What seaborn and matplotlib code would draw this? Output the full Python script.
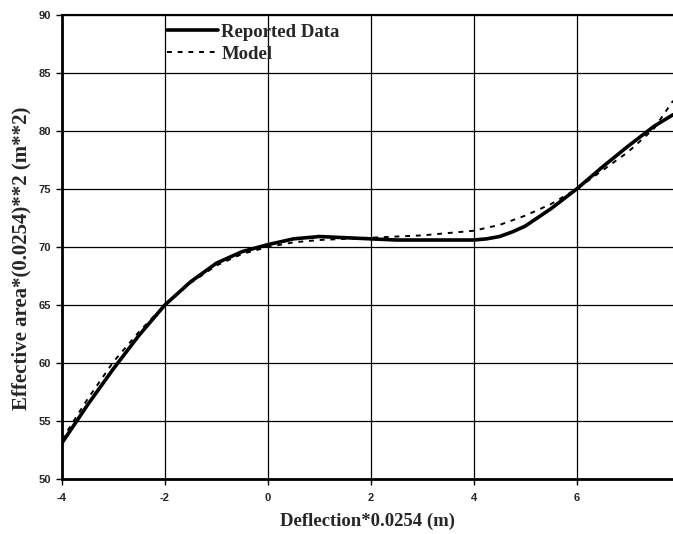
import matplotlib
matplotlib.use("Agg")
import matplotlib.pyplot as plt
import seaborn as sns
import pandas as pd

x_reported = [-4, -3.5, -3, -2.5, -2, -1.5, -1, -0.5, 0, 0.5, 1, 1.5, 2, 2.5, 3, 3.5, 4,
              4.25, 4.5, 4.75, 5, 5.5, 6, 6.5, 7, 7.5, 7.87]
y_reported = [53.1, 56.4, 59.5, 62.4, 65.0, 67.0, 68.6, 69.6, 70.2, 70.7, 70.9, 70.8, 70.7,
              70.6, 70.6, 70.6, 70.6, 70.7, 70.9, 71.3, 71.8, 73.3, 75.0, 76.9, 78.7, 80.4, 81.4]

x_model = [-4, -3.5, -3, -2.5, -2, -1.5, -1, -0.5, 0, 0.5, 1, 1.5, 2, 2.5, 3, 3.5, 4,
           4.5, 5, 5.5, 6, 6.5, 7, 7.5, 7.87]
y_model = [53.4, 56.9, 60.1, 62.7, 65.0, 66.9, 68.4, 69.4, 70.0, 70.4, 70.6, 70.7, 70.8,
           70.9, 71.0, 71.2, 71.4, 71.9, 72.7, 73.7, 75.0, 76.6, 78.2, 80.2, 82.6]

series_names = ["Reported Data", "Model"]
x_ticks = [-4, -2, 0, 2, 4, 6]
y_ticks = [50, 55, 60, 65, 70, 75, 80, 85, 90]

df = pd.concat([
    pd.DataFrame({"x": x_reported, "y": y_reported, "series": series_names[0]}),
    pd.DataFrame({"x": x_model, "y": y_model, "series": series_names[1]}),
])

sns.set_style("white")
plt.rcParams["axes.unicode_minus"] = False
fig = plt.figure(figsize=(6.73, 5.34), dpi=100)
ax = fig.add_axes([0.092, 0.103, 0.908, 0.869])

sns.lineplot(data=df[df.series == series_names[0]], x="x", y="y", ax=ax,
             color="black", linewidth=2.6, label=series_names[0], sort=False)
sns.lineplot(data=df[df.series == series_names[1]], x="x", y="y", ax=ax,
             color="black", linewidth=1.4, linestyle=(0, (2.5, 3)),
             label=series_names[1], sort=False)

ax.set_xlim(-4, 7.87)
ax.set_ylim(50, 90)
ax.set_xticks(x_ticks)
ax.set_yticks(y_ticks)
ax.grid(True, color="black", linewidth=0.9)
ax.set_axisbelow(True)

for s in ["left", "bottom"]:
    ax.spines[s].set_color("black")
    ax.spines[s].set_linewidth(2.0)
ax.spines["right"].set_visible(False)
ax.spines["top"].set_color("black")
ax.spines["top"].set_linewidth(1.5)

ax.tick_params(axis="x", which="major", length=4, width=1, color="black",
               direction="out", labelsize=8, pad=6)
ax.tick_params(axis="y", which="major", length=4, width=1, color="black",
               direction="out", labelsize=8, pad=4)
ax.tick_params(bottom=True, left=True)
for lbl in ax.get_xticklabels() + ax.get_yticklabels():
    lbl.set_fontweight("bold")
    lbl.set_family("Liberation Sans")

ax.set_xlabel("Deflection*0.0254 (m)", fontsize=13.5, fontweight="bold",
              family="Liberation Serif", labelpad=7)
ax.set_ylabel("Effective area*(0.0254)**2 (m**2)", fontsize=15, fontweight="bold",
              family="Liberation Serif", labelpad=4)
ax.yaxis.set_label_coords(-0.05, 0.475)

leg = ax.legend(loc="upper left", bbox_to_anchor=(0.172, 0.981), frameon=False,
                prop={"family": "Liberation Serif", "weight": "bold", "size": 13.5},
                handlelength=2.7, handletextpad=0.2, labelspacing=0.25,
                borderaxespad=0, borderpad=0)

fig.savefig("out.png", dpi=100)
